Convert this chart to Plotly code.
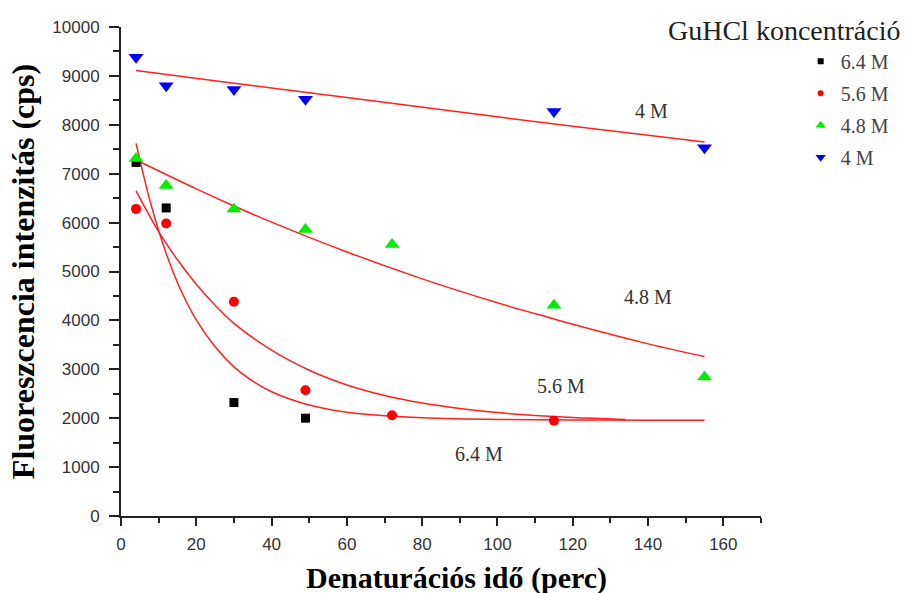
import plotly.graph_objects as go

# Measured data
x_64 = [4, 12, 30, 49]
y_64 = [7230, 6300, 2320, 2000]
x_56 = [4, 12, 30, 49, 72, 115]
y_56 = [6280, 5980, 4380, 2570, 2060, 1950]
x_48 = [4, 12, 30, 49, 72, 115, 155]
y_48 = [7310, 6760, 6280, 5860, 5550, 4310, 2840]
x_40 = [4, 12, 30, 49, 115, 155]
y_40 = [9380, 8800, 8720, 8520, 8270, 7530]

# Fit curves
fx_64 = [4, 8, 12, 16, 20, 25, 30, 35, 40, 49, 60, 70, 80, 100, 120, 140, 155]
fy_64 = [7620, 6360, 5370, 4600, 4010, 3460, 3050, 2760, 2540, 2290, 2120, 2050, 2010, 1975, 1965, 1960, 1960]
fx_56 = [4, 10, 15, 20, 25, 30, 40, 50, 60, 70, 80, 90, 100, 110, 120, 134]
fy_56 = [6650, 5815, 5240, 4740, 4310, 3940, 3390, 2980, 2680, 2465, 2310, 2200, 2115, 2057, 2015, 1975]
fx_48 = [4, 20, 30, 40, 60, 80, 100, 115, 120, 140, 155]
fy_48 = [7280, 6690, 6340, 6010, 5400, 4850, 4360, 4030, 3920, 3520, 3260]
fx_40 = [4, 30, 60, 90, 120, 155]
fy_40 = [9110, 8850, 8560, 8260, 7970, 7650]

curve_labels = ["4 M", "4.8 M", "5.6 M", "6.4 M"]
label_x = [141, 140, 117, 95]
label_y = [8280, 4470, 2650, 1270]

series_names = ["6.4 M", "5.6 M", "4.8 M", "4 M"]
x_ticks = [0, 20, 40, 60, 80, 100, 120, 140, 160]
y_ticks = list(range(0, 10001, 1000))

serif = "Liberation Serif, Times New Roman, serif"
sans = "Liberation Sans, Arial, sans-serif"

fig = go.Figure()

for fx, fy in [(fx_40, fy_40), (fx_48, fy_48), (fx_56, fy_56), (fx_64, fy_64)]:
    fig.add_trace(go.Scatter(x=fx, y=fy, mode="lines", line=dict(color="#ff2020", width=1.5, shape="spline"),
                             showlegend=False, hoverinfo="skip"))

styles = [("square", 9, "black", 6), ("circle", 10, "#ff0000", 6),
          ("triangle-up", 13, "#00ee00", 9), ("triangle-down", 13, "#0000ff", 9)]
for (xs, ys), name, (sym, sz, col, lsz), grp in zip(
        [(x_64, y_64), (x_56, y_56), (x_48, y_48), (x_40, y_40)], series_names, styles, "abcd"):
    fig.add_trace(go.Scatter(x=xs, y=ys, mode="markers", name=name, showlegend=False,
                             marker=dict(symbol=sym, size=sz, color=col)))
    fig.add_trace(go.Scatter(x=[None], y=[None], mode="markers", name=name, legendgroup=grp,
                             marker=dict(symbol=sym, size=lsz, color=col)))

for t, lx, ly in zip(curve_labels, label_x, label_y):
    fig.add_annotation(x=lx, y=ly, text=t, showarrow=False, font=dict(family=serif, size=20, color="#333333"))

fig.add_annotation(x=1.222, xref="paper", y=1.0, yref="paper", xanchor="right", yanchor="middle",
                   yshift=-3, text="GuHCl koncentráció", showarrow=False,
                   font=dict(family=serif, size=28, color="#222222"))

# x-axis title (slightly right of the plot centre, as in the original)
fig.add_annotation(x=(456 - 121) / 640, xref="paper", y=0, yref="paper", xanchor="center", yanchor="middle",
                   yshift=-62, text="<b>Denaturációs idő (perc)</b>", showarrow=False,
                   font=dict(family=serif, size=30, color="black"))

fig.update_layout(
    width=906, height=593,
    margin=dict(l=121, r=145, t=27, b=77),
    plot_bgcolor="white", paper_bgcolor="white",
    legend=dict(x=1.062, y=0.97, xanchor="left", yanchor="top", tracegroupgap=3,
                font=dict(family=serif, size=20, color="#444444"),
                bgcolor="rgba(0,0,0,0)"),
    xaxis=dict(range=[0, 170], tickvals=x_ticks,
               showline=True, linecolor="#222222", linewidth=2, ticks="outside", ticklen=8,
               tickwidth=1.5, tickcolor="#222222", showgrid=False, zeroline=False,
               ticklabelstandoff=4,
               minor=dict(tickvals=[10, 30, 50, 70, 90, 110, 130, 150, 170], ticks="outside", ticklen=5,
                          tickcolor="#222222", tickwidth=1.5, showgrid=False),
               tickfont=dict(family=sans, size=17, color="#333333")),
    yaxis=dict(range=[0, 10000], tickvals=y_ticks, ticktext=[str(v) for v in y_ticks],
               showline=True, linecolor="#222222", linewidth=2, ticks="outside", ticklen=10,
               tickwidth=1.5, tickcolor="#222222", showgrid=False, zeroline=False,
               ticklabelstandoff=6,
               minor=dict(tickvals=list(range(500, 10000, 1000)), ticks="outside", ticklen=6,
                          tickcolor="#222222", tickwidth=1.5, showgrid=False),
               tickfont=dict(family=sans, size=17, color="#333333"),
               title=dict(text="<b>Fluoreszcencia intenzitás (cps)</b>", font=dict(family=serif, size=32, color="black"),
                          standoff=8)),
)

fig.write_html("out.html")
